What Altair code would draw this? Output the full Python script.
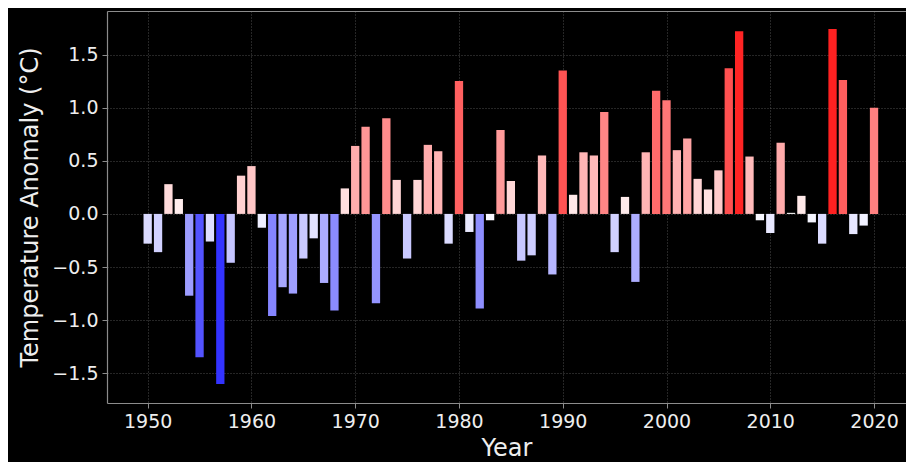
import altair as alt
import pandas as pd

years = list(range(1950, 2021))
anomalies = [
    -0.28, -0.36, 0.28, 0.14, -0.77, -1.35, -0.26, -1.60, -0.46, 0.36,
    0.45, -0.13, -0.96, -0.69, -0.75, -0.42, -0.23, -0.65, -0.91, 0.24,
    0.64, 0.82, -0.84, 0.90, 0.32, -0.42, 0.32, 0.65, 0.59, -0.28,
    1.25, -0.17, -0.89, -0.06, 0.79, 0.31, -0.44, -0.39, 0.55, -0.57,
    1.35, 0.18, 0.58, 0.55, 0.96, -0.36, 0.16, -0.64, 0.58, 1.16,
    1.07, 0.60, 0.71, 0.33, 0.23, 0.41, 1.37, 1.72, 0.54, -0.06,
    -0.18, 0.67, 0.01, 0.17, -0.08, -0.28, 1.74, 1.26, -0.19, -0.11,
    1.00,
]
x_ticks = [1950, 1960, 1970, 1980, 1990, 2000, 2010, 2020]
y_ticks = [-1.5, -1.0, -0.5, 0.0, 0.5, 1.0, 1.5]

df = pd.DataFrame({"Year": years, "Anomaly": anomalies})

grid_color = "#9a9a9a"
frame_color = "#8c8c8c"
font = "DejaVu Sans"

x_scale = alt.Scale(domain=[1946.08, 2023.08], nice=False, zero=False)

bars = alt.Chart(df).transform_calculate(
    x0="datum.Year - 0.4", x1="datum.Year + 0.4", zero="0"
).mark_rect().encode(
    x=alt.X("x0:Q", scale=x_scale,
            axis=alt.Axis(values=x_ticks, format="d", title="Year",
                          grid=True, gridDash=[1, 2], gridColor=grid_color,
                          gridOpacity=0.5)),
    x2="x1:Q",
    y=alt.Y("zero:Q",
            scale=alt.Scale(domain=[-1.78, 1.91], nice=False, zero=False),
            axis=alt.Axis(values=y_ticks, title="Temperature Anomaly (°C)",
                          labelExpr="replace(format(datum.value, '.1f'), '-', '−')",
                          grid=True, gridDash=[1, 2], gridColor=grid_color,
                          gridOpacity=0.5)),
    y2="Anomaly:Q",
    color=alt.Color("Anomaly:Q",
                    scale=alt.Scale(domain=[-2, 0, 2],
                                    range=["#0000ff", "#ffffff", "#ff0000"],
                                    interpolate="rgb"),
                    legend=None),
)

# top spine only (no labels / ticks / grid)
top_frame = alt.Chart(df).mark_rule(opacity=0).encode(
    x=alt.X("Year:Q", scale=x_scale,
            axis=alt.Axis(orient="top", labels=False, ticks=False, grid=False,
                          title=None, domainColor=frame_color, domainWidth=1.2)),
)

chart = alt.layer(bars, top_frame).resolve_axis(x="independent").properties(
    width=799,
    height=392,
    autosize=alt.AutoSizeParams(type="none"),
    padding={"left": 99, "top": 3, "right": 0, "bottom": 59},
    background="black",
).configure_view(
    strokeWidth=0
).configure_axis(
    domainColor=frame_color,
    domainWidth=1.2,
    tickColor=frame_color,
    tickSize=5,
    labelColor="#eeeeee",
    titleColor="#eeeeee",
    labelFont=font,
    titleFont=font,
    labelFontSize=19,
    titleFontSize=24,
    titleFontWeight="normal",
    labelPadding=4,
).configure_axisX(
    titlePadding=5
).configure_axisY(
    titlePadding=9
)

chart.save("out.html", embed_options={"renderer": "svg", "actions": False})
